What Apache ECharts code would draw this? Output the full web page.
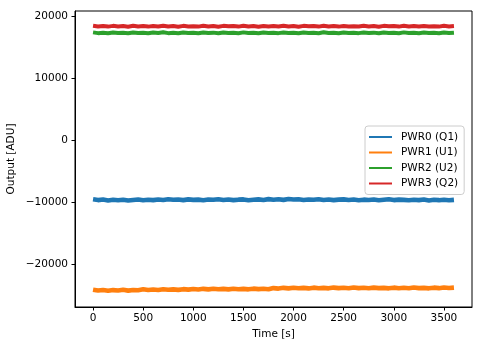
<!DOCTYPE html>
<html>
<head>
<meta charset="utf-8">
<script src="https://cdn.jsdelivr.net/npm/echarts@6/dist/echarts.min.js"></script>
<style>
html, body { margin: 0; padding: 0; background: #fff; }
#chart { width: 483px; height: 347px; }
</style>
</head>
<body>
<div id="chart"></div>
<script>
// time axis (s), sampled every 50 s
var times = [0,50,100,150,200,250,300,350,400,450,500,550,600,650,700,750,800,850,900,950,
    1000,1050,1100,1150,1200,1250,1300,1350,1400,1450,1500,1550,1600,1650,1700,1750,1800,1850,1900,1950,
    2000,2050,2100,2150,2200,2250,2300,2350,2400,2450,2500,2550,2600,2650,2700,2750,2800,2850,2900,2950,
    3000,3050,3100,3150,3200,3250,3300,3350,3400,3450,3500,3550,3600]

var pwr0 = [-9480,-9610,-9520,-9660,-9560,-9630,-9540,-9670,-9580,-9500,
    -9630,-9550,-9610,-9500,-9590,-9470,-9560,-9520,-9610,-9490,
    -9570,-9530,-9620,-9500,-9560,-9480,-9600,-9520,-9610,-9540,
    -9500,-9630,-9560,-9490,-9580,-9450,-9550,-9470,-9570,-9440,
    -9520,-9480,-9580,-9500,-9560,-9460,-9590,-9510,-9610,-9530,
    -9490,-9600,-9520,-9620,-9540,-9590,-9500,-9630,-9550,-9480,
    -9610,-9530,-9580,-9630,-9540,-9610,-9520,-9660,-9560,-9620,
    -9540,-9640,-9570]

var pwr1 = [-24020,-24160,-24060,-24190,-24080,-24150,-24040,-24170,-24060,-24110,
    -23960,-24080,-23990,-24060,-23940,-24030,-23960,-24050,-23930,-24010,
    -23900,-23990,-23880,-23960,-23870,-23950,-23890,-23970,-23860,-23940,
    -23880,-23960,-23850,-23930,-23870,-23950,-23760,-23840,-23720,-23800,
    -23700,-23790,-23720,-23810,-23690,-23780,-23730,-23800,-23680,-23770,
    -23710,-23790,-23660,-23760,-23700,-23780,-23690,-23770,-23720,-23800,
    -23690,-23780,-23710,-23790,-23670,-23760,-23730,-23800,-23690,-23770,
    -23660,-23750,-23690]

var pwr2 = [17360,17240,17320,17220,17340,17250,17310,17230,17350,17260,
    17300,17210,17330,17250,17370,17240,17310,17220,17340,17260,
    17290,17230,17350,17250,17320,17210,17340,17260,17300,17230,
    17360,17250,17310,17220,17330,17270,17290,17240,17350,17250,
    17320,17220,17340,17260,17300,17230,17370,17250,17310,17220,
    17340,17260,17290,17240,17350,17250,17320,17210,17340,17260,
    17300,17230,17360,17250,17310,17240,17330,17260,17290,17230,
    17350,17260,17320]

var pwr3 = [18420,18300,18390,18290,18410,18320,18380,18280,18430,18310,
    18370,18290,18400,18310,18440,18300,18380,18270,18410,18320,
    18360,18290,18420,18310,18390,18280,18410,18330,18370,18290,
    18430,18310,18380,18280,18400,18320,18370,18300,18420,18310,
    18390,18280,18410,18330,18370,18290,18440,18310,18380,18290,
    18400,18320,18360,18300,18420,18310,18390,18280,18410,18330,
    18370,18290,18430,18310,18380,18300,18400,18320,18360,18290,
    18420,18320,18390]

var names = ['PWR0 (Q1)', 'PWR1 (U1)', 'PWR2 (U2)', 'PWR3 (Q2)']
var colors = ['#1f77b4', '#ff7f0e', '#2ca02c', '#d62728']
var widths = [4.6, 4.6, 4, 4]
var xTicks = [0, 500, 1000, 1500, 2000, 2500, 3000, 3500]
var yTicks = [-20000, -10000, 0, 10000, 20000]

function pairs(ys) {
    return ys.map(function (v, i) { return [times[i], v] })
}

var font = 'DejaVu Sans'
var fs = 10.5
var series = [pwr0, pwr1, pwr2, pwr3].map(function (ys, i) {
    return {
        name: names[i],
        type: 'line',
        data: pairs(ys),
        symbol: 'none',
        lineStyle: { width: widths[i], color: colors[i] },
        itemStyle: { color: colors[i] }
    }
})

var chart = echarts.init(document.getElementById('chart'))
chart.setOption({
    animation: false,
    textStyle: { fontFamily: font },
    grid: {
        left: 75, right: 11, top: 11, bottom: 40,
        containLabel: false,
        outerBoundsMode: 'none',
        show: true, borderColor: '#000', borderWidth: 1
    },
    xAxis: {
        type: 'value',
        min: -180, max: 3780,
        name: 'Time [s]',
        nameLocation: 'middle',
        nameGap: 22,
        nameMoveOverlap: false,
        nameTextStyle: { fontFamily: font, fontSize: fs, color: '#000' },
        axisLine: { show: true, onZero: false, lineStyle: { color: '#000', width: 1 } },
        axisTick: { show: true, length: 3.5, customValues: xTicks, lineStyle: { color: '#000' } },
        axisLabel: {
            customValues: xTicks, margin: 6, fontFamily: font, fontSize: fs, color: '#000',
            formatter: function (v) { return String(v) }
        },
        splitLine: { show: false }
    },
    yAxis: {
        type: 'value',
        min: -26800, max: 20800,
        name: 'Output [ADU]',
        nameLocation: 'middle',
        nameGap: 58,
        nameMoveOverlap: false,
        nameTextStyle: { fontFamily: font, fontSize: fs, color: '#000' },
        axisLine: { show: true, onZero: false, lineStyle: { color: '#000', width: 1 } },
        axisTick: { show: true, length: 3.5, customValues: yTicks, lineStyle: { color: '#000' } },
        axisLabel: {
            customValues: yTicks, margin: 7, fontFamily: font, fontSize: fs, color: '#000',
            formatter: function (v) { return String(v).replace('-', '\u2212') }
        },
        splitLine: { show: false }
    },
    legend: {
        orient: 'vertical',
        left: 365, top: 126,
        padding: [5, 6, 5, 4],
        itemWidth: 23, itemHeight: 2,
        itemGap: 3.5,
        icon: 'rect',
        borderColor: '#ccc', borderWidth: 1, borderRadius: 3,
        backgroundColor: 'rgba(255,255,255,0.8)',
        textStyle: { fontFamily: font, fontSize: fs, color: '#000', lineHeight: 12, padding: [0, 0, 0, 4] },
        data: names
    },
    series: series
})
</script>
</body>
</html>
